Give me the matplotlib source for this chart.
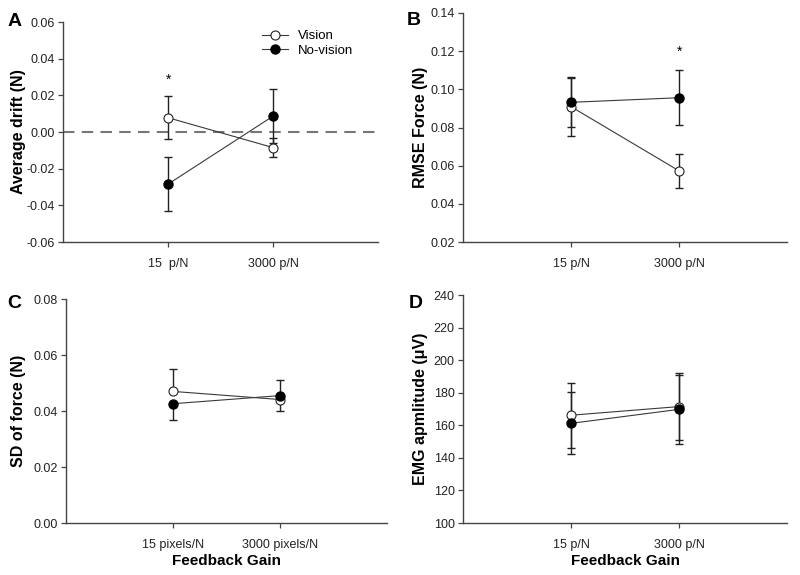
import numpy as np
import matplotlib
matplotlib.use("Agg")
import matplotlib.pyplot as plt

plt.rcParams["font.family"] = ["Liberation Sans", "DejaVu Sans"]

# 数据
gain_pos = [1, 2]
tick_short = ["15  p/N", "3000 p/N"]
tick_b = ["15 p/N", "3000 p/N"]
tick_c = ["15 pixels/N", "3000 pixels/N"]

drift_vision = [0.0078, -0.0085]
drift_vision_err = [0.0116, 0.0053]
drift_novision = [-0.0284, 0.0087]
drift_novision_err = [0.0148, 0.0147]

rmse_vision = [0.0909, 0.0573]
rmse_vision_err = [0.0155, 0.0088]
rmse_novision = [0.0932, 0.0956]
rmse_novision_err = [0.0130, 0.0145]

# C 图误差线只画一侧: [下, 上]
sd_vision = [0.0470, 0.0441]
sd_vision_err = [[0.0, 0.0042], [0.0079, 0.0]]
sd_novision = [0.0426, 0.0455]
sd_novision_err = [[0.0058, 0.0], [0.0, 0.0054]]

emg_vision = [166.2, 171.5]
emg_vision_err = [20.0, 20.5]
emg_novision = [161.2, 169.8]
emg_novision_err = [19.0, 21.0]

LINE_C = "#3a3a3a"
ERR_C = "#222222"


def draw_panel(ax, vis, vis_err, nov, nov_err, ylim, yticks, fmt, ticklabels, ylabel, lab_x):
    # 误差线先画，圆点盖在上面
    ax.errorbar(gain_pos, vis, yerr=vis_err, fmt="none", ecolor=ERR_C,
                elinewidth=1.0, capsize=3, capthick=1.0, zorder=2)
    ax.errorbar(gain_pos, nov, yerr=nov_err, fmt="none", ecolor=ERR_C,
                elinewidth=1.0, capsize=3, capthick=1.0, zorder=2)
    ax.plot(gain_pos, vis, "-o", color=LINE_C, lw=0.8, mfc="white", mec="#222222",
            ms=6.5, mew=0.8, label="Vision", zorder=3)
    ax.plot(gain_pos, nov, "-o", color=LINE_C, lw=0.8, mfc="black", mec="black",
            ms=6.5, label="No-vision", zorder=4)
    ax.set_xlim(0, 3)
    ax.set_ylim(*ylim)
    ax.set_yticks(yticks)
    ax.set_yticklabels([fmt.format(v) for v in yticks])
    ax.set_xticks(gain_pos)
    ax.set_xticklabels(ticklabels)
    for s in ["top", "right"]:
        ax.spines[s].set_visible(False)
    for s in ["left", "bottom"]:
        ax.spines[s].set_color("#444444")
        ax.spines[s].set_linewidth(1.0)
    ax.tick_params(axis="both", direction="out", length=3.5, width=0.9,
                   color="#444444", labelsize=9, labelcolor="#222222")
    ax.tick_params(axis="x", pad=8)
    ax.tick_params(axis="y", pad=2.5)
    ax.set_ylabel(ylabel, fontsize=11.5, fontweight="bold")
    ax.yaxis.set_label_coords(lab_x, 0.5)


fig = plt.figure(figsize=(8, 5.75), dpi=100)

axA = fig.add_axes([0.0788, 0.5791, 0.394, 0.3826])
axB = fig.add_axes([0.5788, 0.5791, 0.405, 0.3983])
axC = fig.add_axes([0.0825, 0.0904, 0.401, 0.3896])
axD = fig.add_axes([0.5788, 0.0904, 0.405, 0.3965])

draw_panel(axA, drift_vision, drift_vision_err, drift_novision, drift_novision_err,
           (-0.06, 0.06), np.arange(-0.06, 0.061, 0.02), "{:.2f}", tick_short,
           "Average drift (N)", -0.118)
axA.axhline(0, color="#777777", lw=1.5, ls=(0, (5.5, 3.5)), zorder=1)
axA.text(1, 0.0286, "*", ha="center", va="center", fontsize=10)
handles, labels = axA.get_legend_handles_labels()
axA.legend(handles, labels, loc="upper left", bbox_to_anchor=(0.63, 0.963),
           frameon=False, fontsize=9.5, handlelength=2.0, handletextpad=0.75,
           labelspacing=0.15, borderpad=0, borderaxespad=0)

draw_panel(axB, rmse_vision, rmse_vision_err, rmse_novision, rmse_novision_err,
           (0.02, 0.14), np.arange(0.02, 0.141, 0.02), "{:.2f}", tick_b,
           "RMSE Force (N)", -0.108)
axB.text(2, 0.1197, "*", ha="center", va="center", fontsize=10)

draw_panel(axC, sd_vision, sd_vision_err, sd_novision, sd_novision_err,
           (0.0, 0.08), np.arange(0.0, 0.081, 0.02), "{:.2f}", tick_c,
           "SD of force (N)", -0.125)
axC.set_xlabel("Feedback Gain", fontsize=11, fontweight="bold", labelpad=2)

draw_panel(axD, emg_vision, emg_vision_err, emg_novision, emg_novision_err,
           (100, 240), np.arange(100, 241, 20), "{:.0f}", tick_b,
           "EMG apmlitude (μV)", -0.108)
axD.set_xlabel("Feedback Gain", fontsize=11, fontweight="bold", labelpad=2)

# 面板字母
for x, y, s in [(0.009, 0.962, "A"), (0.508, 0.965, "B"), (0.009, 0.472, "C"), (0.511, 0.472, "D")]:
    fig.text(x, y, s, fontsize=14, fontweight="bold", va="center")

fig.savefig("out.png", dpi=100)
